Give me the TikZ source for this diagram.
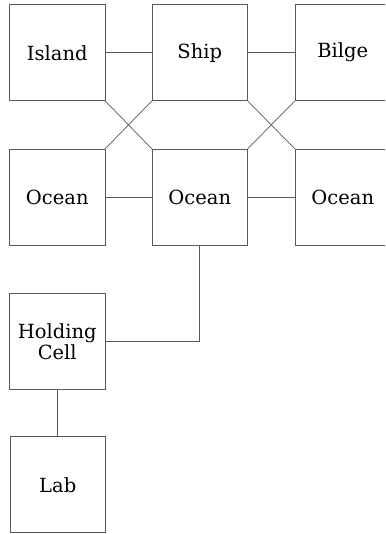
\documentclass[tikz,border=0pt]{standalone}
\usepackage{fontspec}
\usepackage{tikz}
\newfontfamily\roomfont{DejaVu Serif}

\begin{document}
\begin{tikzpicture}[
        x=1pt, y=-1pt,
        room/.style={rectangle, draw=black!65, line width=0.8pt, minimum width=95.5pt, minimum height=96pt, inner sep=0pt, outer sep=0pt, align=center, font=\roomfont\fontsize{19.5}{21}\selectfont},
        link/.style={draw=black!65, line width=0.7pt}
    ]
        \useasboundingbox (0,0) rectangle (385,534);
        \clip (0,0) rectangle (385,534);

        % Rooms
        \node[room] (island) at (57.25,52.75) {Island};
        \node[room] (ship) at (199.75,52.75) {Ship};
        \node[room] (bilge) at (342.75,52.75) {Bilge};
        \node[room] (oceanl) at (57.25,197) {Ocean};
        \node[room] (oceanm) at (199.75,197) {Ocean};
        \node[room] (oceanr) at (342.75,197) {Ocean};
        \node[room] (holding) at (57.25,341.5) {Holding\\Cell};
        \node[room] (lab) at (57.75,484.75) {Lab};

        % Links
        \draw[link] (island) -- (ship);
        \draw[link] (ship) -- (bilge);
        \draw[link] (oceanl) -- (oceanm);
        \draw[link] (oceanm) -- (oceanr);
        \draw[link] (island.south east) -- (oceanm.north west);
        \draw[link] (ship.south west) -- (oceanl.north east);
        \draw[link] (ship.south east) -- (oceanr.north west);
        \draw[link] (bilge.south west) -- (oceanm.north east);
        \draw[link] (oceanm.south) |- (holding.east);
        \draw[link] (holding) -- (lab);

    \end{tikzpicture}
\end{document}
